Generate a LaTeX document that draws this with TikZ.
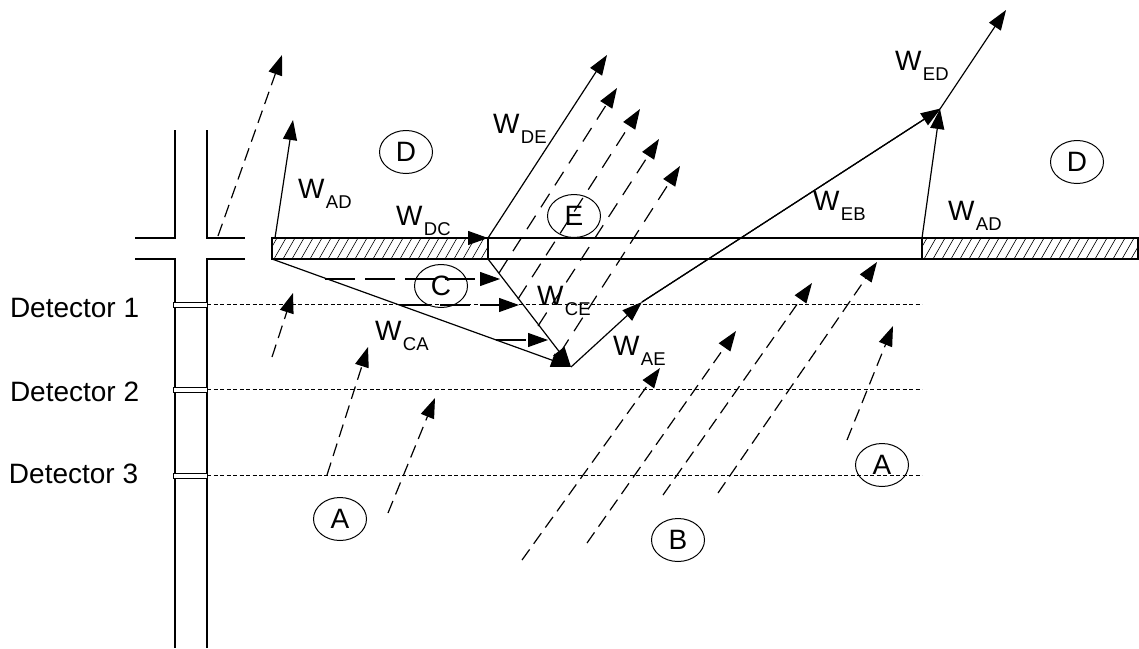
\documentclass[tikz,border=0pt]{standalone}
\usepackage{fontspec}
\setmainfont{Liberation Sans}
\usetikzlibrary{arrows.meta,shapes.geometric}
\newcommand{\Wl}[1]{W\kern1.5pt\raisebox{-10pt}{\fontsize{18.5}{20}\selectfont #1}}
\begin{document}
\begin{tikzpicture}[x=1pt,y=-1pt,
  every node/.style={inner sep=0pt, outer sep=0pt},
  lbl/.style={anchor=base west, font=\fontsize{28}{32}\selectfont},
  region/.style={draw, ellipse, line width=1pt, minimum width=53pt, minimum height=43pt, font=\fontsize{28}{32}\selectfont},
  solidarrow/.style={line width=1.2pt, -{Triangle[length=20pt,width=14pt]}},
  ldash/.style={solidarrow, dash pattern=on 13pt off 7pt},
  edash/.style={solidarrow, dash pattern=on 16pt off 10pt},
  hdash/.style={solidarrow, dash pattern=on 30pt off 10pt},
  detline/.style={line width=1pt, dash pattern=on 4pt off 2.5pt},
  wall/.style={line width=1.2pt},
  hatch/.style={line width=0.6pt},
]
\useasboundingbox (0,0) rectangle (1139,648);

% well
\draw[wall] (175,130) -- (175,238) -- (135,238);
\draw[wall] (207,130) -- (207,238) -- (245,238);
\draw[wall] (135,259) -- (175,259) -- (175,648);
\draw[wall] (245,259) -- (207,259) -- (207,648);

% detectors
\foreach \y/\n in {304.5/1,389.5/2,475.5/3}{
  \draw[line width=0.8pt, fill=white] (173,\y-2.5) rectangle (207,\y+2.5);
  \draw[detline] (207,\y) -- (922,\y);
}
\node[lbl] (det1) at (10,317) {Detector 1};
\node[lbl] (det2) at (10,401) {Detector 2};
\node[lbl] (det3) at (9,483) {Detector 3};

% plate
\begin{scope}
\clip (272,238) rectangle (488,259);
\foreach \x in {256,265,...,500} \draw[hatch] (\x,259) -- (\x+12,238);
\end{scope}
\begin{scope}
\clip (922,238) rectangle (1138,259);
\foreach \x in {906,915,...,1150} \draw[hatch] (\x,259) -- (\x+12,238);
\end{scope}
\draw[wall] (272,238) rectangle (488,259);
\draw[wall] (488,238) rectangle (922,259);
\draw[wall] (922,238) rectangle (1138,259);

% key points
\coordinate (PL) at (272,259);
\coordinate (PLt) at (272,238);
\coordinate (PC) at (488,259);
\coordinate (PCt) at (488,238);
\coordinate (V) at (571,367);
\coordinate (M) at (642,302);
\coordinate (J) at (940,109);
\coordinate (Q) at (922,238);
\coordinate (T) at (1006,10);
\coordinate (ADs) at (275,238);
\coordinate (ADt) at (293,120);
\coordinate (DEt) at (607,55);

% solid vectors
\draw[solidarrow] (PLt) -- (PCt);
\draw[solidarrow] (PCt) -- (DEt);
\draw[solidarrow] (ADs) -- (ADt);
\draw[solidarrow] (PL) -- (V);
\draw[solidarrow] (PC) -- (V);
\draw[solidarrow] (V) -- (M);
\draw[line width=1.2pt] (M) -- (J);
\draw[solidarrow, shorten >=-1pt] (M) -- (J);
\draw[solidarrow] (Q) -- (J);
\draw[solidarrow] (J) -- (T);

% dashed flows in E
\foreach \a/\b in {{(499,273)}/{(617,88)},{(518,299)}/{(640,109)},{(538,326)}/{(659,139)},{(560,353)}/{(680,166)}}
  \draw[edash] \a -- \b;

% dashed flows in C
\draw[hdash] (325,279) -- (500,279);
\draw[hdash] (400,305) -- (519,305);
\draw[hdash] (496,340) -- (548,340);

% dashed flows from A and B
\foreach \a/\b in {{(218,236)}/{(282,55)},{(272,357)}/{(293,293)},{(327,475)}/{(368,347)},{(388,513)}/{(435,398)},
  {(522,560)}/{(660,368)},{(587,543)}/{(736,331)},{(663,495)}/{(812,283)},{(718,493)}/{(877,262)},{(847,440)}/{(893,326)}}
  \draw[ldash] \a -- \b;

% region labels
\node[region] (Dl) at (406,152) {D};
\node[region] (Dr) at (1077,162) {D};
\node[region] (E) at (574,216) {E};
\node[region] (C) at (441,286) {C};
\node[region] (Al) at (340,519) {A};
\node[region] (Ar) at (882,465) {A};
\node[region] (B) at (678,540) {B};

% vector labels
\node[lbl] (lAD1) at (298,198) {\Wl{AD}};
\node[lbl] (lDC) at (396,225) {\Wl{DC}};
\node[lbl] (lDE) at (493,133) {\Wl{DE}};
\node[lbl] (lCE) at (537,305) {\Wl{CE}};
\node[lbl] (lCA) at (375,340) {\Wl{CA}};
\node[lbl] (lAE) at (613,355) {\Wl{AE}};
\node[lbl] (lEB) at (813,210) {\Wl{EB}};
\node[lbl] (lAD2) at (948,220) {\Wl{AD}};
\node[lbl] (lED) at (895,70) {\Wl{ED}};
\end{tikzpicture}
\end{document}
